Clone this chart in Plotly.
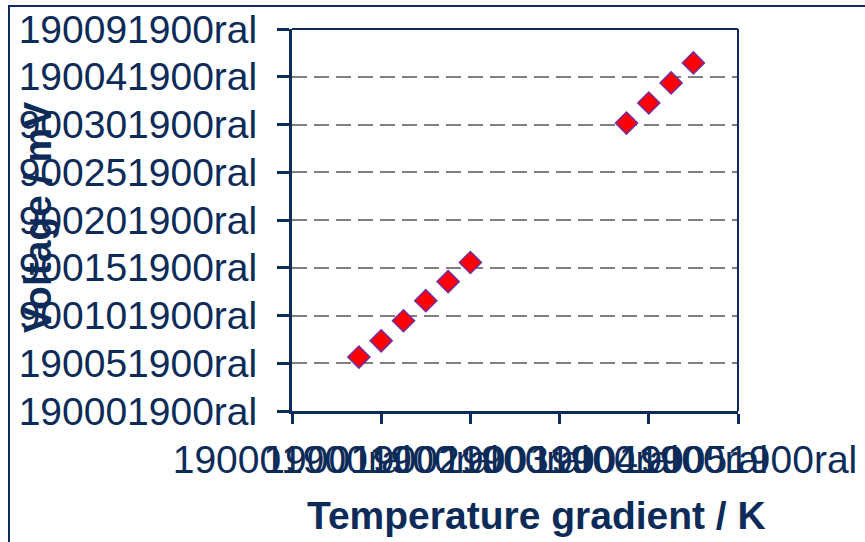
import plotly.graph_objects as go

# ---- data ----
x_low = [0.75, 1.0, 1.25, 1.5, 1.75, 2.0]
y_low = [1.13, 1.47, 1.89, 2.31, 2.71, 3.11]
x_high = [3.75, 4.0, 4.25, 4.5]
y_high = [6.03, 6.45, 6.87, 7.29]

x_tick_vals = [0, 1, 2, 3, 4, 5]
x_tick_text = ["190001900ral", "190011900ral", "190021900ral",
               "190031900ral", "190041900ral", "190051900ral"]
y_tick_vals = [0, 1, 2, 3, 4, 5, 6, 7, 8]
y_tick_text = ["190001900ral", "190051900ral", "900101900ral", "900151900ral",
               "900201900ral", "900251900ral", "900301900ral", "190041900ral",
               "190091900ral"]

x_title = "Temperature gradient / K"
y_title = "Voltage / mV"

NAVY = "#0c2b58"
FONT = "Arial, Liberation Sans, sans-serif"

W, H = 865, 542
L, R, T, B = 292, 738, 29, 411  # plot area in window pixels

marker = dict(symbol="diamond", size=17, color="#ff0000",
              line=dict(color="#7030a0", width=1.5))

fig = go.Figure()
fig.add_trace(go.Scatter(x=x_low, y=y_low, mode="markers", marker=marker,
                         showlegend=False, hoverinfo="x+y"))
fig.add_trace(go.Scatter(x=x_high, y=y_high, mode="markers", marker=marker,
                         showlegend=False, hoverinfo="x+y"))

def px_to_paper_x(px):
    return (px - L) / (R - L)

def px_to_paper_y(py):
    return (B - py) / (B - T)

fig.update_layout(
    width=W, height=H,
    margin=dict(l=L, r=W - R, t=T, b=H - B, pad=0),
    paper_bgcolor="white", plot_bgcolor="white",
    font=dict(family=FONT, color=NAVY, size=39),
    xaxis=dict(range=[0, 5], tickmode="array", tickvals=x_tick_vals,
               ticktext=x_tick_text, tickangle=0, showgrid=False,
               zeroline=False, showline=True, linecolor=NAVY, linewidth=3,
               ticks="outside", ticklen=10, tickwidth=3, tickcolor=NAVY,
               tickfont=dict(size=39, color=NAVY, family=FONT),
               ticklabelstandoff=2, ticklabeloverflow="allow",
               automargin=False),
    yaxis=dict(range=[0, 8], tickmode="array", tickvals=y_tick_vals,
               ticktext=y_tick_text, showgrid=True, gridcolor="#808080",
               gridwidth=2, griddash="15px,7px", zeroline=False,
               showline=True, linecolor=NAVY, linewidth=3,
               ticks="outside", ticklen=12, tickwidth=3, tickcolor=NAVY,
               tickfont=dict(size=39, color=NAVY, family=FONT),
               ticklabelstandoff=12, ticklabeloverflow="allow",
               automargin=False),
    shapes=[
        # plot area frame (top & right edges)
        dict(type="line", xref="paper", yref="paper", x0=0, x1=1, y0=1, y1=1,
             line=dict(color=NAVY, width=2)),
        dict(type="line", xref="paper", yref="paper", x0=1, x1=1, y0=0, y1=1,
             line=dict(color=NAVY, width=2)),
        # outer chart border
        dict(type="rect", xref="paper", yref="paper",
             x0=px_to_paper_x(9), x1=px_to_paper_x(880),
             y0=px_to_paper_y(560), y1=px_to_paper_y(6),
             line=dict(color=NAVY, width=2), fillcolor="rgba(0,0,0,0)",
             layer="below"),
    ],
    annotations=[
        dict(text="<b>" + x_title + "</b>", xref="paper", yref="paper",
             x=px_to_paper_x(536), y=px_to_paper_y(515), showarrow=False,
             xanchor="center", yanchor="middle",
             font=dict(size=39, color=NAVY, family=FONT)),
        dict(text="<b>" + y_title + "</b>", xref="paper", yref="paper",
             x=px_to_paper_x(37), y=px_to_paper_y(218), showarrow=False,
             textangle=-90, xanchor="center", yanchor="middle",
             font=dict(size=39, color=NAVY, family=FONT)),
    ],
)

fig.write_html("out.html",
               config={"displayModeBar": False},
               post_script="document.body.style.margin='0';"
                           "document.body.style.overflow='hidden';")
